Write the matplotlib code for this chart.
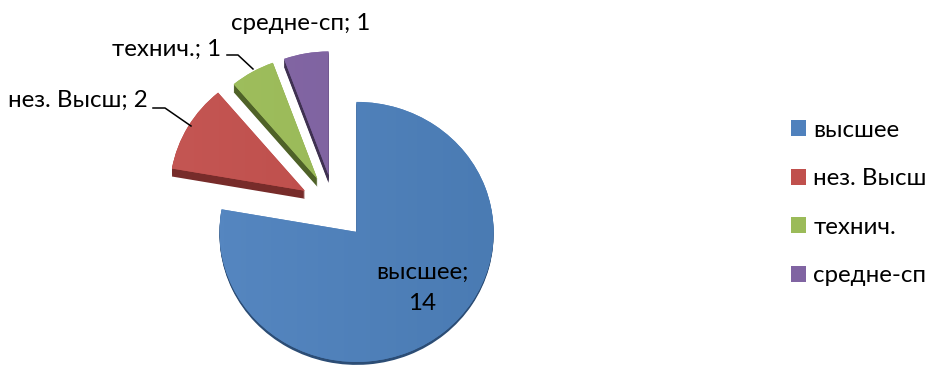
import numpy as np
import matplotlib
matplotlib.use('Agg')
import matplotlib.pyplot as plt
from matplotlib.colors import LinearSegmentedColormap
from matplotlib.lines import Line2D
from matplotlib.patches import Patch

plt.rcParams['font.family'] = ['Lato', 'Open Sans', 'DejaVu Sans']

# Данные
labels = ['высшее', 'нез. Высш', 'технич.', 'средне-сп']
values = [14, 2, 1, 1]

colors = ['#4f81bd', '#c0504d', '#9bbb59', '#8064a2']
light = ['#5586c0', '#c45653', '#a0bf5e', '#8568a7']
deep = ['#4a7bb3', '#bb4b48', '#96b655', '#7b609c']
side = ['#2c4d75', '#772c2a', '#4f6228', '#3f3151']

W, H = 928, 367
# центр и радиусы пирога в пикселях
CX, CY, RX, RY = 334.5, 207, 137, 130
DEPTH = 8
BLUE_DEPTH = 3
explode = [0.25] * 4
radii = [1.0, 0.985, 0.95, 0.95]

fig = plt.figure(figsize=(W / 100, H / 100), dpi=100)
ax = fig.add_axes([0, 0, 1, 1])

# боковая сторона
for d in range(DEPTH, 0, -1):
    side_w, _ = ax.pie(values, explode=explode, colors=side, startangle=90, counterclock=False,
                       center=(0, -d / RY), wedgeprops={'linewidth': 0, 'zorder': 1})
    for w, r in zip(side_w, radii):
        w.set_radius(r)
    side_w[0].set_visible(d <= BLUE_DEPTH)

wedges, _ = ax.pie(values, explode=explode, colors=colors, startangle=90, counterclock=False,
                   wedgeprops={'linewidth': 0, 'zorder': 2})

# лёгкий градиент на верхней стороне
for w, r, c1, c2 in zip(wedges, radii, light, deep):
    w.set_radius(r)
    cmap = LinearSegmentedColormap.from_list('g', [c1, c2])
    cx, cy = w.center
    im = ax.imshow(np.linspace(0, 1, 64).reshape(1, -1), cmap=cmap, aspect='auto',
                   extent=(cx - 1, cx + 1, cy - 1, cy + 1), zorder=3)
    im.set_clip_path(w)

ax.set_aspect('auto')
ax.set_xlim(-CX / RX, (W - CX) / RX)
ax.set_ylim((CY - H) / RY, CY / RY)
ax.axis('off')


def fx(x):
    return x / W


def fy(y):
    return 1 - y / H


fs = 17.4
txt = dict(transform=fig.transFigure, fontsize=fs, color='black', zorder=5)
fig.text(fx(301), fy(24), 'средне-сп; 1', ha='center', va='center', **txt)
fig.text(fx(221), fy(49), 'технич.; 1', ha='right', va='center', **txt)
fig.text(fx(148), fy(100), 'нез. Высш; 2', ha='right', va='center', **txt)
fig.text(fx(422), fy(272), 'высшее;', ha='center', va='center', **txt)
fig.text(fx(422), fy(304), '14', ha='center', va='center', **txt)

# выноски
fig.add_artist(Line2D([fx(153), fx(165), fx(191)], [fy(108), fy(108), fy(126)], color='black', lw=1.1))
fig.add_artist(Line2D([fx(227), fx(238), fx(253)], [fy(55), fy(55), fy(69)], color='black', lw=1.1))

# легенда
handles = [Patch(facecolor=c, linewidth=0) for c in colors]
fig.legend(handles, labels, loc='center left', bbox_to_anchor=(fx(791), fy(203)), frameon=False,
           fontsize=fs, handlelength=0.62, handleheight=0.62, handletextpad=0.3,
           labelspacing=1.14, borderpad=0, borderaxespad=0)

fig.savefig('out.png', dpi=100)
